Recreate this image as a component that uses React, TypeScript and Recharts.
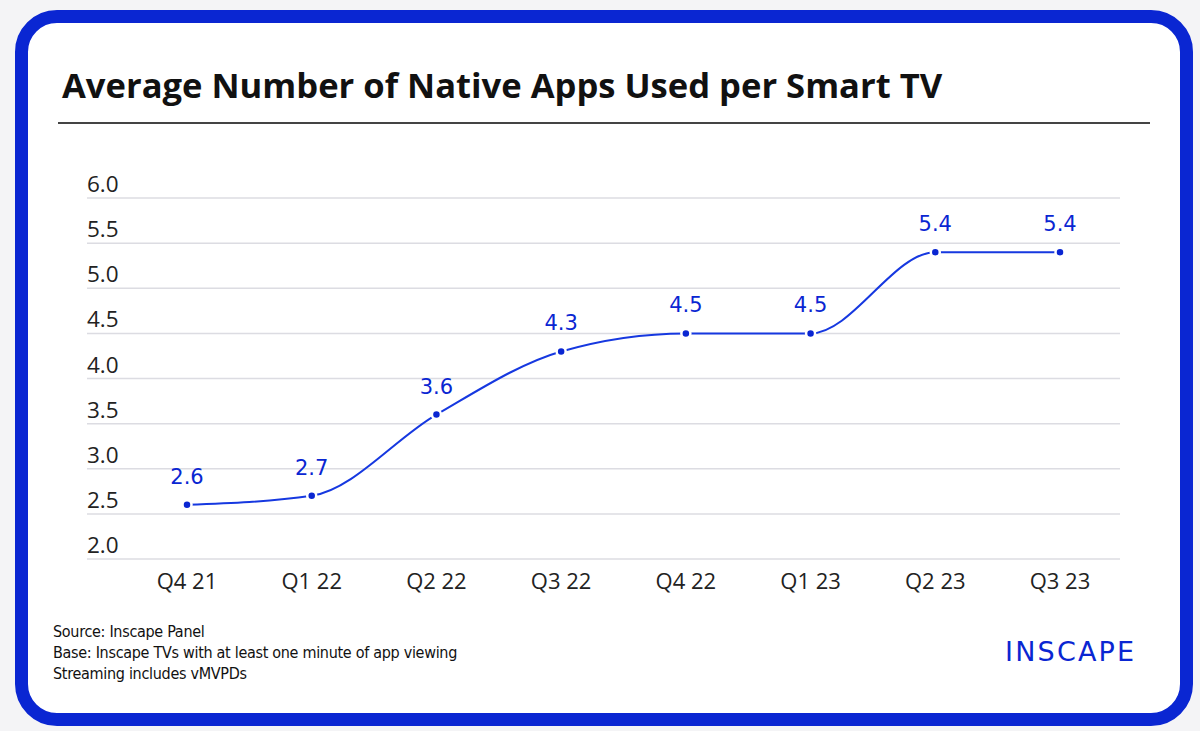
import { LineChart, Line, XAxis, YAxis, CartesianGrid, LabelList } from "recharts";

const quarters = ["Q4 21", "Q1 22", "Q2 22", "Q3 22", "Q4 22", "Q1 23", "Q2 23", "Q3 23"];
const avgApps = [2.6, 2.7, 3.6, 4.3, 4.5, 4.5, 5.4, 5.4];
const yTicks = [2.0, 2.5, 3.0, 3.5, 4.0, 4.5, 5.0, 5.5, 6.0];
const footnotes = [
  "Source: Inscape Panel",
  "Base: Inscape TVs with at least one minute of app viewing",
  "Streaming includes vMVPDs",
];

const BLUE = "#0a26d2";
const LINE_BLUE = "#1638e0";
const PLOT_LEFT = 87;

const data = quarters.map((q, i) => ({ quarter: q, value: avgApps[i] }));

function renderYTick(props: any) {
  const { y, payload } = props;
  return (
    <text
      key={`yt-${payload.value}`}
      x={PLOT_LEFT}
      y={y - 6}
      textAnchor="start"
      fontFamily="'Open Sans', sans-serif"
      fontSize={22.5}
      fill="#222"
    >
      {Number(payload.value).toFixed(1)}
    </text>
  );
}

function ValueLabel(props: any) {
  const { x, y, value } = props;
  return (
    <text x={x} y={y - 21} textAnchor="middle" fontFamily="'DejaVu Sans', sans-serif" fontSize={21} fill={BLUE}>
      {Number(value).toFixed(1)}
    </text>
  );
}

export default function App() {
  return (
    <div style={{ position: "absolute", left: 0, top: 0, width: 1200, height: 731, background: "#f4f4f6", overflow: "hidden" }}>
      <div
        style={{
          position: "absolute",
          left: 15,
          top: 10,
          width: 1178 - 26,
          height: 716 - 26,
          border: `13px solid ${BLUE}`,
          borderRadius: 42,
          background: "#fff",
        }}
      />
      <div
        style={{
          position: "absolute",
          left: 62,
          top: 62,
          fontFamily: "'Open Sans', sans-serif",
          fontWeight: 700,
          fontSize: 34.6,
          lineHeight: "46px",
          color: "#111",
          whiteSpace: "nowrap",
        }}
      >
        Average Number of Native Apps Used per Smart TV
      </div>
      <div style={{ position: "absolute", left: 58, top: 122, width: 1092, height: 2, background: "#444" }} />
      <div style={{ position: "absolute", left: 0, top: 0 }}>
        <LineChart width={1200} height={731} data={data} margin={{ top: 198, left: PLOT_LEFT - 1, right: 80, bottom: 142 }}>
          <CartesianGrid vertical={false} stroke="#dcdce2" strokeWidth={1.5} />
          <XAxis
            dataKey="quarter"
            height={30}
            padding={{ left: 100, right: 60 }}
            axisLine={false}
            tickLine={false}
            tickSize={0}
            tickMargin={14}
            interval={0}
            tick={{ fontFamily: "'Open Sans', sans-serif", fontSize: 22, fill: "#222" }}
          />
          <YAxis
            width={1}
            domain={[2, 6]}
            ticks={yTicks}
            interval={0}
            axisLine={false}
            tickLine={false}
            tick={renderYTick}
          />
          <Line
            type="monotone"
            dataKey="value"
            stroke={LINE_BLUE}
            strokeWidth={2}
            dot={{ r: 4.5, fill: BLUE, stroke: "#fff", strokeWidth: 2.5 }}
            isAnimationActive={false}
          >
            <LabelList dataKey="value" content={<ValueLabel />} />
          </Line>
        </LineChart>
      </div>
      <div
        style={{
          position: "absolute",
          left: 53,
          top: 621,
          fontFamily: "'DejaVu Sans Condensed', 'Liberation Sans', sans-serif",
          fontSize: 16,
          lineHeight: "21px",
          letterSpacing: -0.3,
          color: "#111",
          whiteSpace: "nowrap",
        }}
      >
        {footnotes.map((t) => (
          <div key={t}>{t}</div>
        ))}
      </div>
      <div
        style={{
          position: "absolute",
          left: 1005,
          top: 634,
          fontFamily: "'DejaVu Sans', sans-serif",
          fontSize: 27,
          lineHeight: "36px",
          letterSpacing: 2.2,
          color: BLUE,
          whiteSpace: "nowrap",
        }}
      >
        INSCAPE
      </div>
    </div>
  );
}
